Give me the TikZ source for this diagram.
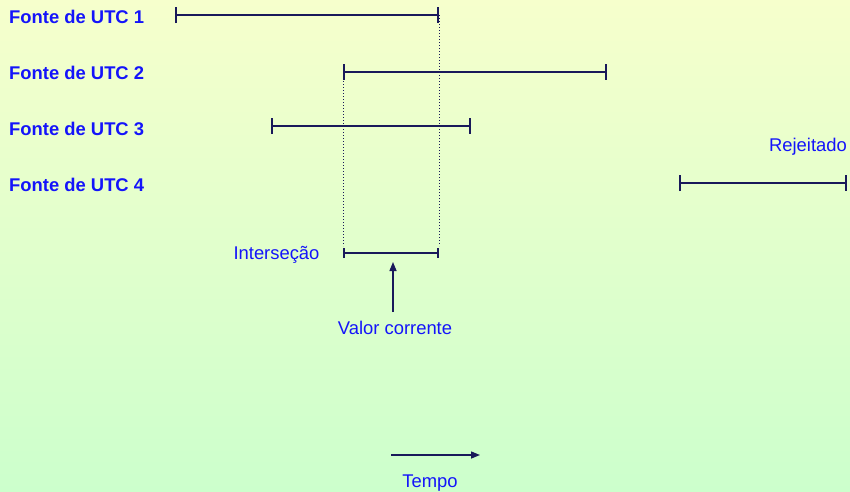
\documentclass[tikz,border=0pt]{standalone}
\usepackage{fontspec}
\setmainfont{Liberation Sans}
\usetikzlibrary{arrows.meta}
\definecolor{bgtop}{RGB}{246,255,204}
\definecolor{bgbot}{RGB}{204,255,204}
\definecolor{txtblue}{RGB}{20,20,250}
\definecolor{linecol}{RGB}{25,25,90}
\tikzset{
  srclabel/.style={font=\fontsize{18.4}{20}\selectfont\bfseries, text=txtblue, anchor=base west, inner sep=0pt},
  plainlabel/.style={font=\fontsize{18.4}{20}\selectfont, text=txtblue, anchor=base, inner sep=0pt},
  interval/.style={draw=linecol, line width=1.4pt, {Bar[width=16pt,line width=2pt]}-{Bar[width=16pt,line width=2pt]}},
  shortinterval/.style={draw=linecol, line width=1.4pt, {Bar[width=10pt,line width=2pt]}-{Bar[width=10pt,line width=2pt]}},
  guide/.style={draw=linecol, line width=1pt, dotted},
  pointer/.style={draw=linecol, line width=1.4pt, -{Triangle[length=9pt,width=7pt]}}
}
\begin{document}
\begin{tikzpicture}[x=1pt,y=-1pt]
  % background
  \shade[top color=bgtop, bottom color=bgbot] (0,0) rectangle (850,491);
  \useasboundingbox (0,0) rectangle (850,491);

  % source labels
  \node[srclabel] (l1) at (9,23) {Fonte de UTC 1};
  \node[srclabel] (l2) at (9,79) {Fonte de UTC 2};
  \node[srclabel] (l3) at (9,135) {Fonte de UTC 3};
  \node[srclabel] (l4) at (9,191) {Fonte de UTC 4};

  % interval end points
  \coordinate (a1) at (175,15);  \coordinate (b1) at (439,15);
  \coordinate (a2) at (343,72);  \coordinate (b2) at (607,72);
  \coordinate (a3) at (271,126); \coordinate (b3) at (471,126);
  \coordinate (a4) at (679,183); \coordinate (b4) at (847,183);
  \coordinate (ai) at (343,253); \coordinate (bi) at (439,253);

  % intervals
  \draw[interval] (a1) -- (b1);
  \draw[interval] (a2) -- (b2);
  \draw[interval] (a3) -- (b3);
  \draw[interval] (a4) -- (b4);
  \draw[shortinterval] (ai) -- (bi);

  % projection of the intersection bounds
  \coordinate (gi) at (343,246);
  \coordinate (gj) at (439,246);
  \draw[guide] (a2) -- (gi);
  \draw[guide] (b1) -- (gj);

  % other labels
  \node[plainlabel] (inter) at (276.5,259) {Interseção};
  \node[plainlabel] (rej) at (808,151) {Rejeitado};
  \node[plainlabel] (valor) at (395,334) {Valor corrente};
  \node[plainlabel] (tempo) at (430,487) {Tempo};

  % pointer to the current value
  \coordinate (vp) at (393,312);
  \coordinate (vq) at (393,262);
  \draw[pointer] (vp) -- (vq);

  % time direction
  \coordinate (t0) at (391,455);
  \coordinate (t1) at (480,455);
  \draw[pointer] (t0) -- (t1);
\end{tikzpicture}
\end{document}
